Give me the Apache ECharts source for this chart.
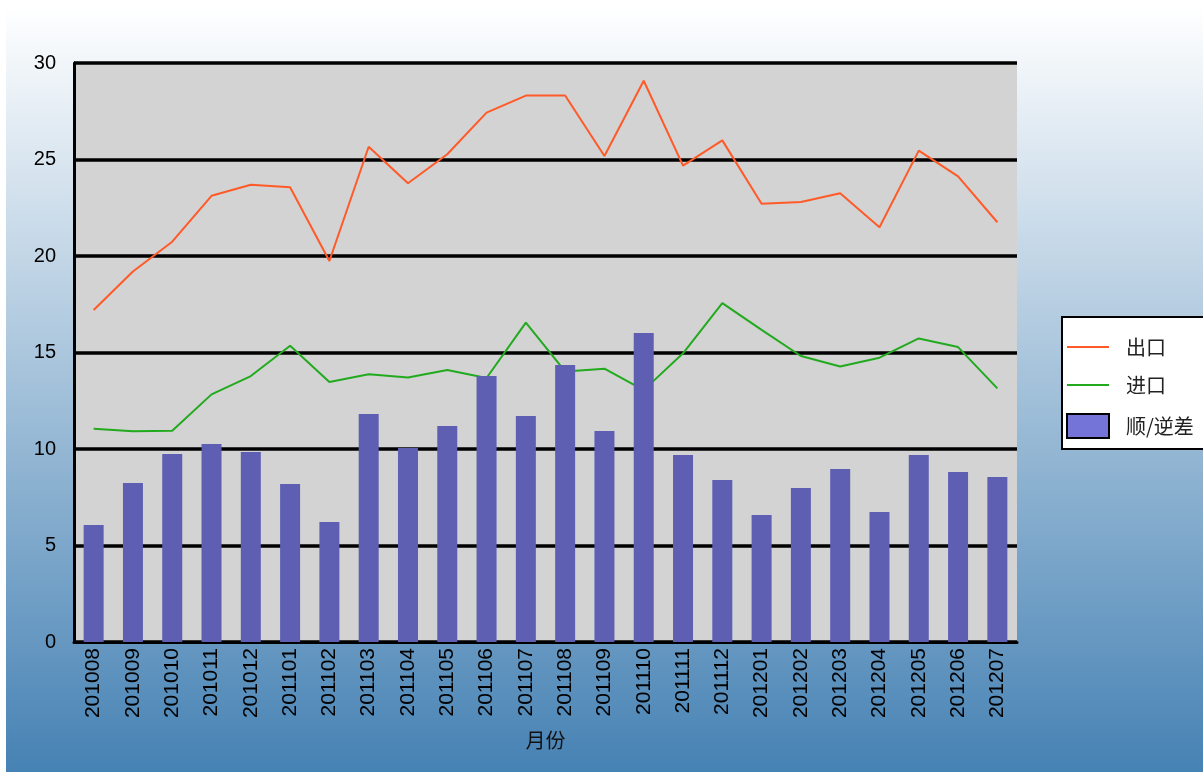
<!DOCTYPE html>
<html>
<head>
<meta charset="utf-8">
<script src="https://cdn.jsdelivr.net/npm/echarts@6/dist/echarts.min.js"></script>
<style>
  html, body { margin: 0; padding: 0; background: #fff; }
  #chart { width: 1203px; height: 772px; }
</style>
</head>
<body>
<div id="chart"></div>
<script>
const months = [
  "201008", "201009", "201010", "201011", "201012", "201101", "201102", "201103",
  "201104", "201105", "201106", "201107", "201108", "201109", "201110", "201111",
  "201112", "201201", "201202", "201203", "201204", "201205", "201206", "201207",
];
const exportVals = [
  17.2, 19.2, 20.74, 23.12, 23.69, 23.56, 19.74, 25.66,
  23.77, 25.27, 27.43, 28.31, 28.32, 25.18, 29.08, 24.68,
  25.99, 22.71, 22.8, 23.25, 21.49, 25.46, 24.13, 21.75,
];
const importVals = [
  11.05, 10.92, 10.95, 12.83, 13.78, 15.35, 13.47, 13.87,
  13.71, 14.09, 13.68, 16.55, 14.02, 14.16, 13.05, 14.96,
  17.56, 16.17, 14.82, 14.27, 14.73, 15.73, 15.28, 13.14,
];
const balanceVals = [
  6.06, 8.24, 9.74, 10.26, 9.84, 8.19, 6.22, 11.81,
  10.05, 11.19, 13.78, 11.71, 14.35, 10.93, 16.01, 9.69,
  8.39, 6.58, 7.98, 8.96, 6.74, 9.69, 8.81, 8.55,
];
const seriesNames = ["出口", "进口", "顺/逆差"];

const chart = echarts.init(document.getElementById("chart"), null, { renderer: "canvas" });

const numFont = "'Liberation Sans', Arial, sans-serif";
const cjkFont = "'Noto Sans CJK SC', 'Liberation Sans', sans-serif";
// hide the dot ECharts puts on line legend icons
const noDot = { color: "rgba(0,0,0,0)", borderWidth: 0 };

chart.setOption({
  animation: false,
  graphic: [
    {
      type: "rect",
      z: -10,
      silent: true,
      shape: { x: 6, y: 6, width: 1197, height: 766 },
      style: {
        fill: new echarts.graphic.LinearGradient(0, 0, 0, 1, [
          { offset: 0, color: "#ffffff" },
          { offset: 1, color: "#4682b4" },
        ]),
      },
    },
  ],
  grid: {
    left: 74, right: 186, top: 63, bottom: 130,
    show: true, backgroundColor: "#d3d3d3", borderWidth: 0,
  },
  legend: {
    orient: "vertical",
    left: 1062, top: 317,
    backgroundColor: "#fff",
    borderColor: "#000",
    borderWidth: 2,
    borderRadius: 0,
    padding: [20, 12, 10, 4],
    itemWidth: 42, itemHeight: 24, itemGap: 18,
    textStyle: { fontSize: 20, color: "#222", fontFamily: cjkFont, padding: [0, 0, 0, 12] },
    data: [
      { name: seriesNames[0], itemStyle: noDot },
      { name: seriesNames[1], itemStyle: noDot },
      { name: seriesNames[2], icon: "rect", itemStyle: { color: "#7474d8", borderColor: "#000", borderWidth: 2 } },
    ],
  },
  xAxis: {
    type: "category",
    data: months,
    name: "月份",
    nameLocation: "middle",
    nameGap: 88,
    nameTextStyle: { fontSize: 20, color: "#111", fontFamily: cjkFont },
    axisLine: { show: true, lineStyle: { color: "#000", width: 3 } },
    axisTick: { show: false },
    axisLabel: { rotate: 90, margin: 6, fontSize: 21, color: "#000", fontFamily: numFont },
  },
  yAxis: {
    type: "value",
    min: 0, max: 30, interval: 5,
    axisLine: { show: true, lineStyle: { color: "#000", width: 3 } },
    axisTick: { show: false },
    splitLine: { show: true, lineStyle: { color: "#000", width: 3.5 } },
    axisLabel: { margin: 18, fontSize: 20, color: "#000", fontFamily: numFont },
  },
  series: [
    {
      name: seriesNames[0],
      type: "line",
      data: exportVals,
      symbol: "none",
      z: 2,
      lineStyle: { color: "#ff5a28", width: 2 },
      itemStyle: { color: "#ff5a28" },
    },
    {
      name: seriesNames[1],
      type: "line",
      data: importVals,
      symbol: "none",
      z: 2,
      lineStyle: { color: "#22aa1e", width: 2 },
      itemStyle: { color: "#22aa1e" },
    },
    {
      name: seriesNames[2],
      type: "bar",
      data: balanceVals,
      barWidth: 20,
      z: 3,
      itemStyle: { color: "#5e5fb2" },
    },
  ],
});
</script>
</body>
</html>
